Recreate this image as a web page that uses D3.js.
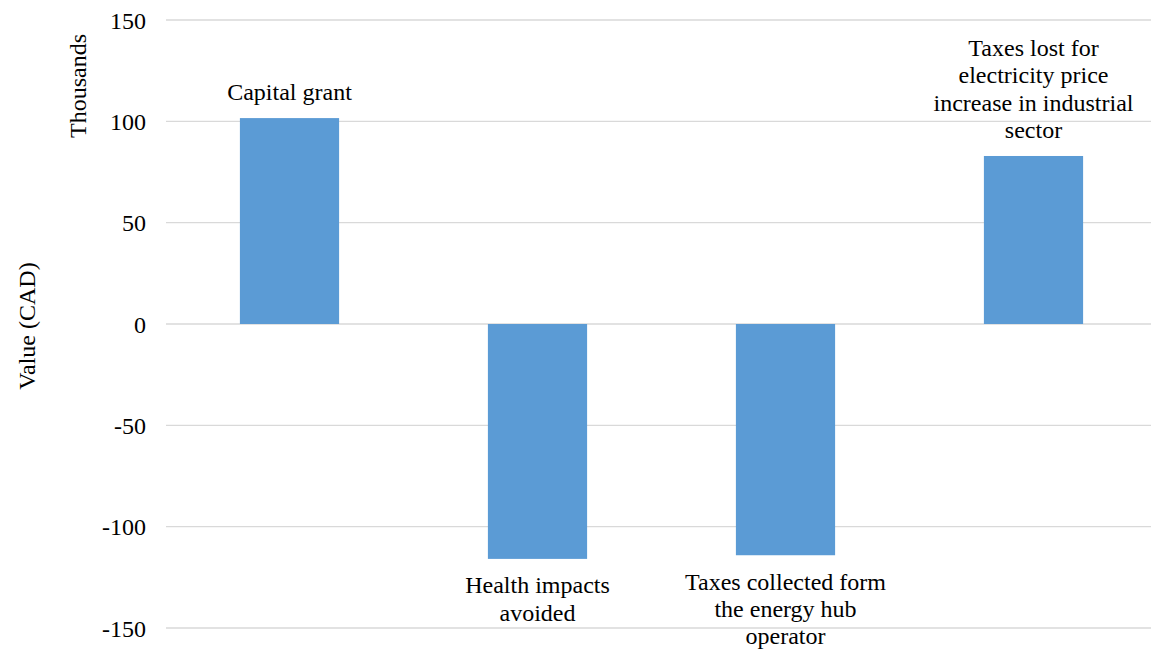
<!DOCTYPE html>
<html>
<head>
<meta charset="utf-8">
<script src="https://cdn.jsdelivr.net/npm/d3@7"></script>
</head>
<body style="margin:0;background:#fff">
<svg id="chart" width="1151" height="649" style="display:block"></svg>
<script>
// Cost/benefit items (values in thousands of CAD)
const categories = [
  "Capital grant",
  "Health impacts avoided",
  "Taxes collected form the energy hub operator",
  "Taxes lost for electricity price increase in industrial sector"
];
// Wrapped text of each category label, one entry per line
const categoryLines = [
  ["Capital grant"],
  ["Health impacts", "avoided"],
  ["Taxes collected form", "the energy hub", "operator"],
  ["Taxes lost for", "electricity price", "increase in industrial", "sector"]
];
const values = [101.6, -115.9, -114.1, 82.9];
const yTicks = [-150, -100, -50, 0, 50, 100, 150];

const FONT = "'Liberation Serif'";
const fontSize = 24;
const lineH = 27.3;
const svg = d3.select("#chart");

const x = d3.scaleBand()
  .domain(categories)
  .range([165.5, 1157.5])
  .paddingInner(0.6)
  .paddingOuter(0.3);

const y = d3.scaleLinear()
  .domain([-150, 150])
  .range([628, 20]);

// Horizontal gridlines
svg.append("g")
  .selectAll("line")
  .data(yTicks)
  .join("line")
  .attr("x1", 166)
  .attr("x2", 1157)
  .attr("y1", d => y(d))
  .attr("y2", d => y(d))
  .attr("stroke", "#d9d9d9")
  .attr("stroke-width", 1.3);

// Y axis tick labels (plain hyphen for negatives)
const yAxis = d3.axisLeft(y)
  .tickValues(yTicks)
  .tickFormat(d => String(d))
  .tickSize(0)
  .tickPadding(0);
const yg = svg.append("g")
  .attr("transform", "translate(146,0)")
  .call(yAxis);
yg.select(".domain").remove();
yg.selectAll("text")
  .attr("font-size", fontSize)
  .style("font-family", FONT)
  .attr("fill", "#000")
  .attr("dy", "0.34em");

// Axis titles
const titles = [
  { text: "Thousands", x: 86, y: 86 },
  { text: "Value (CAD)", x: 35, y: 326 }
];
svg.append("g")
  .selectAll("text")
  .data(titles)
  .join("text")
  .attr("transform", d => `translate(${d.x},${d.y}) rotate(-90)`)
  .attr("text-anchor", "middle")
  .attr("font-size", fontSize)
  .style("font-family", FONT)
  .attr("fill", "#000")
  .text(d => d.text);

// Bars
svg.append("g")
  .selectAll("rect")
  .data(categories)
  .join("rect")
  .attr("x", d => x(d))
  .attr("width", x.bandwidth())
  .attr("y", (d, i) => y(Math.max(0, values[i])))
  .attr("height", (d, i) => Math.abs(y(values[i]) - y(0)))
  .attr("fill", "#5b9bd5");

// Category labels: above positive bars, below negative bars
const labels = svg.append("g")
  .selectAll("text")
  .data(categories)
  .join("text")
  .attr("text-anchor", "middle")
  .attr("font-size", fontSize)
  .style("font-family", FONT)
  .attr("fill", "#000");

labels.each(function(d, i) {
  const lines = categoryLines[i];
  const cx = x(d) + x.bandwidth() / 2;
  const v = values[i];
  const firstBaseline = v >= 0
    ? y(v) - 18 - (lines.length - 1) * lineH
    : y(v) + 34.5;
  d3.select(this)
    .selectAll("tspan")
    .data(lines)
    .join("tspan")
    .attr("x", cx)
    .attr("y", (t, j) => firstBaseline + j * lineH)
    .text(t => t);
});
</script>
</body>
</html>
